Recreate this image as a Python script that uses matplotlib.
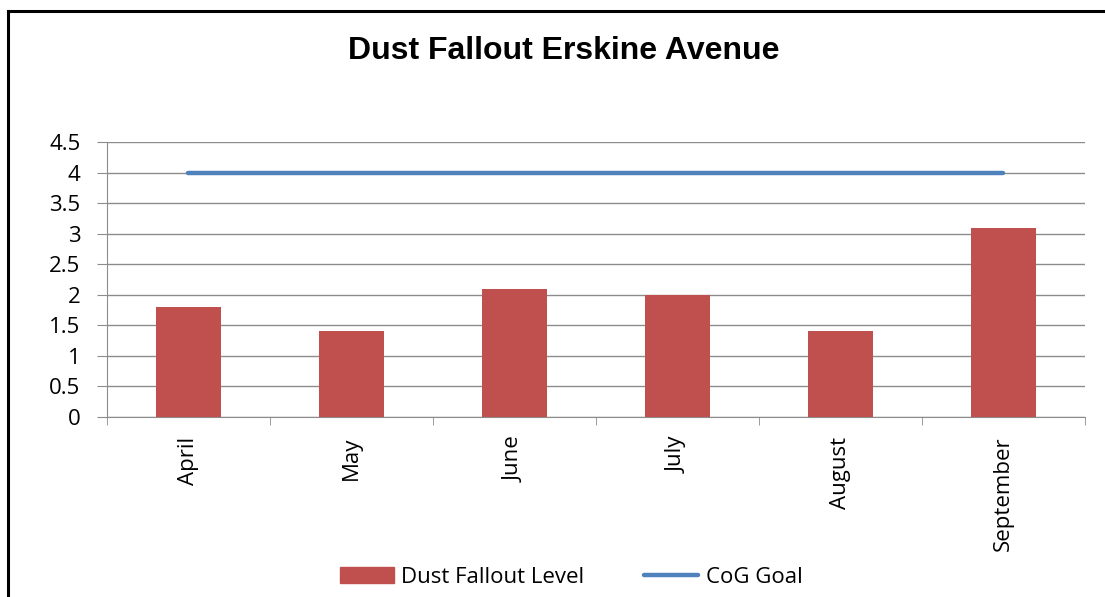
import matplotlib.pyplot as plt
from matplotlib.lines import Line2D
import numpy as np

months = ["April", "May", "June", "July", "August", "September"]
dust_level = [1.8, 1.4, 2.1, 2.0, 1.4, 3.1]
cog_goal = [4, 4, 4, 4, 4, 4]

plt.rcParams["font.family"] = ["Open Sans", "DejaVu Sans"]

fig = plt.figure(figsize=(11.05, 5.97), dpi=100)
ax = fig.add_axes([0.0968, 0.3015, 0.8851, 0.4606])

x = np.arange(len(months))
ax.bar(x, dust_level, width=0.4, color="#C0504D", label="Dust Fallout Level", zorder=3)
ax.plot(x, cog_goal, color="#4F81BD", lw=3.2, solid_capstyle="round",
        label="CoG Goal", zorder=4)

ax.set_xlim(-0.5, len(months) - 0.5)
ax.set_ylim(0, 4.5)
ax.set_yticks(np.arange(0, 4.51, 0.5))
ax.set_yticklabels(["0", "0.5", "1", "1.5", "2", "2.5", "3", "3.5", "4", "4.5"])
ax.grid(axis="y", color="#8c8c8c", lw=1, zorder=0)

ax.set_xticks(x)
ax.set_xticklabels(months, rotation=90, fontsize=16)
ax.set_xticks(np.arange(-0.5, len(months)), minor=True)
ax.tick_params(axis="x", which="major", length=0, pad=14)
ax.tick_params(axis="x", which="minor", length=6, color="#8c8c8c")
ax.tick_params(axis="y", length=7, color="#8c8c8c", labelsize=16, pad=12)

for s in ["top", "right"]:
    ax.spines[s].set_visible(False)
for s in ["left", "bottom"]:
    ax.spines[s].set_color("#8c8c8c")

fig.text(0.510, 0.915, "Dust Fallout Erskine Avenue", ha="center", va="center",
         fontsize=23, fontweight="bold", family=["Liberation Sans", "DejaVu Sans"])

handles = [plt.Rectangle((0, 0), 1, 1, color="#C0504D"),
           Line2D([0], [0], color="#4F81BD", lw=3.2, solid_capstyle="round")]
fig.legend(handles, ["Dust Fallout Level", "CoG Goal"], loc="center",
           bbox_to_anchor=(0.517, 0.033), ncol=2, frameon=False, fontsize=16,
           handlelength=2.4, handletextpad=0.35, columnspacing=2.7)

# outer frame (left and top edges)
fig.add_artist(Line2D([0.0068, 0.0068], [0, 0.982], color="black", lw=2.2,
                      transform=fig.transFigure))
fig.add_artist(Line2D([0.0068, 1], [0.982, 0.982], color="black", lw=2.2,
                      transform=fig.transFigure))

fig.savefig("out.png", dpi=100, facecolor="white")
